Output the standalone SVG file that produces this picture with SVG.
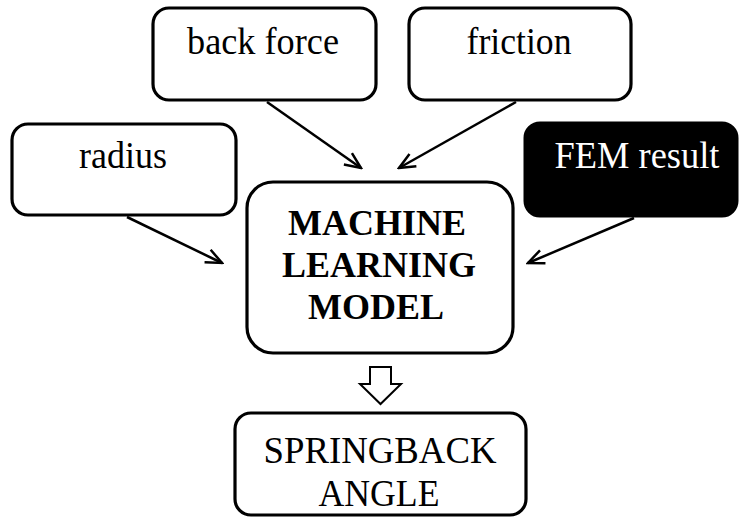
<svg xmlns="http://www.w3.org/2000/svg" width="739" height="517" viewBox="0 0 739 517">
<style>
.box{fill:#fff;stroke:#000;stroke-width:3.2}
.dark{fill:#000;stroke:#000;stroke-width:3}
.t{font-family:"Liberation Serif","Times New Roman",serif;font-size:38px;fill:#000;text-anchor:middle}
.b{font-weight:bold;font-size:36px}
.w{fill:#fff}
.c{stroke:#000;stroke-width:2.5;fill:none}
</style>
<defs>
<marker id="ah" viewBox="0 0 20 20" refX="18" refY="10" markerWidth="20" markerHeight="20" markerUnits="userSpaceOnUse" orient="auto">
<path d="M2,3 L18,10 L2,17" fill="none" stroke="#000" stroke-width="2.5"/>
</marker>
</defs>
<rect width="739" height="517" fill="#fff"/>
<g id="back-force"><rect class="box" x="153" y="8" width="223" height="92" rx="16"/><text class="t" x="263" y="54" textLength="152" lengthAdjust="spacingAndGlyphs">back force</text></g>
<g id="friction"><rect class="box" x="409" y="8" width="222" height="92" rx="16"/><text class="t" x="519" y="54" textLength="105" lengthAdjust="spacingAndGlyphs">friction</text></g>
<g id="radius"><rect class="box" x="12" y="124" width="224" height="91" rx="16"/><text class="t" x="123" y="168" textLength="88" lengthAdjust="spacingAndGlyphs">radius</text></g>
<g id="fem-result"><rect class="dark" x="525" y="123" width="212" height="93" rx="15"/><text class="t w" x="637" y="168" textLength="165" lengthAdjust="spacingAndGlyphs">FEM result</text></g>
<g id="ml-model"><rect class="box" x="247" y="182" width="266" height="171" rx="26"/><text class="t b" x="377" y="235">MACHINE</text><text class="t b" x="379" y="277">LEARNING</text><text class="t b" x="376" y="319">MODEL</text></g>
<g id="springback"><rect class="box" x="235" y="413" width="291" height="102" rx="16"/><text class="t" x="380" y="463" textLength="233" lengthAdjust="spacingAndGlyphs">SPRINGBACK</text><text class="t" x="379" y="506" textLength="121" lengthAdjust="spacingAndGlyphs">ANGLE</text></g>
<g id="connectors">
<line class="c" x1="267" y1="102" x2="361" y2="168" marker-end="url(#ah)"/>
<line class="c" x1="516" y1="102" x2="399" y2="168" marker-end="url(#ah)"/>
<line class="c" x1="127" y1="217" x2="222" y2="263" marker-end="url(#ah)"/>
<line class="c" x1="634" y1="218" x2="528" y2="263" marker-end="url(#ah)"/>
<polygon points="370,367 391,367 391,384 401,384 380.5,404 360,384 370,384" fill="#fff" stroke="#000" stroke-width="2"/>
</g>
</svg>
